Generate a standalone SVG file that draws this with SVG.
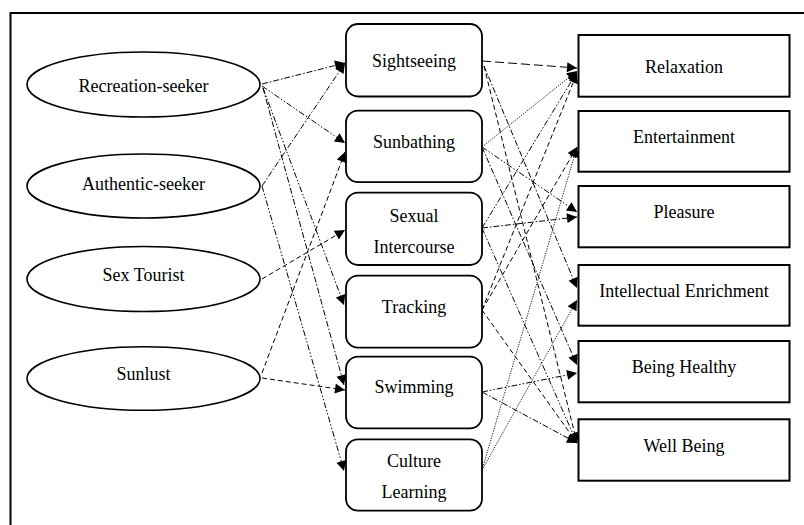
<svg xmlns="http://www.w3.org/2000/svg" width="804" height="525" viewBox="0 0 804 525">
<style>
text{font-family:"Liberation Serif","Times New Roman",serif;font-size:18px;fill:#000;text-anchor:middle}
.el{fill:#fff;stroke:#000;stroke-width:1.6}
.act{fill:#fff;stroke:#000;stroke-width:1.8}
.ben{fill:#fff;stroke:#000;stroke-width:2}
.c{fill:none;stroke:#000;stroke-width:1;marker-end:url(#ah)}
.ds{stroke-dasharray:5 3}
.ld{stroke-dasharray:9 4}
.dd{stroke-dasharray:6 2 1.5 2}
.ddd{stroke-dasharray:6 2 1.5 2 1.5 2}
.dt{stroke-dasharray:1.2 1.3;stroke-width:0.9}
</style>
<defs>
<marker id="ah" viewBox="0 0 10 10" refX="10" refY="5" markerWidth="12" markerHeight="10" markerUnits="userSpaceOnUse" orient="auto">
<path d="M0,0 L10,5 L0,10 Z" fill="#000"/>
</marker>
</defs>
<rect x="10.5" y="13" width="800" height="520" fill="none" stroke="#000" stroke-width="2"/>
<g id="connectors">
<line class="c dd" x1="262" y1="84" x2="345" y2="63"/>
<line class="c ddd" x1="262" y1="86" x2="345" y2="143"/>
<line class="c ddd" x1="263" y1="88" x2="344" y2="305"/>
<line class="c dd" x1="263" y1="88" x2="344" y2="385"/>
<line class="c dd" x1="262" y1="186" x2="345" y2="63"/>
<line class="c ddd" x1="262" y1="186" x2="344" y2="471"/>
<line class="c ds" x1="262" y1="279" x2="345" y2="230"/>
<line class="c ds" x1="262" y1="373" x2="345" y2="152"/>
<line class="c ds" x1="262" y1="378" x2="345" y2="390"/>
<line class="c ld" x1="482" y1="61" x2="577" y2="68"/>
<line class="c dd" x1="484" y1="66" x2="577" y2="288"/>
<line class="c ds" x1="484" y1="66" x2="577" y2="443"/>
<line class="c dt" x1="482" y1="147" x2="577" y2="71"/>
<line class="c ddd" x1="482" y1="147" x2="577" y2="212"/>
<line class="c dd" x1="482" y1="147" x2="577" y2="365"/>
<line class="c ddd" x1="482" y1="228" x2="577" y2="72"/>
<line class="c dd" x1="482" y1="228" x2="577" y2="217"/>
<line class="c ddd" x1="482" y1="228" x2="577" y2="443"/>
<line class="c ds" x1="482" y1="310" x2="577" y2="73"/>
<line class="c ds" x1="482" y1="310" x2="577" y2="147"/>
<line class="c ds" x1="482" y1="310" x2="577" y2="443"/>
<line class="c ddd" x1="482" y1="392" x2="577" y2="373"/>
<line class="c dd" x1="482" y1="392" x2="577" y2="443"/>
<line class="c dt" x1="482" y1="470" x2="577" y2="147"/>
<line class="c dt" x1="482" y1="470" x2="577" y2="300"/>
</g>
<g id="recreation-seeker"><ellipse class="el" cx="143.5" cy="84.5" rx="116.5" ry="32.5"/><text x="143.5" y="92">Recreation-seeker</text></g>
<g id="authentic-seeker"><ellipse class="el" cx="143.5" cy="186" rx="116.5" ry="32"/><text x="143.5" y="190">Authentic-seeker</text></g>
<g id="sex-tourist"><ellipse class="el" cx="143.5" cy="279" rx="116.5" ry="32.5"/><text x="143.5" y="281">Sex Tourist</text></g>
<g id="sunlust"><ellipse class="el" cx="143.5" cy="378.5" rx="116.5" ry="31.8"/><text x="143.5" y="380">Sunlust</text></g>
<g id="sightseeing"><rect class="act" x="346" y="24" width="136" height="72.5" rx="12"/><text x="414" y="66.5">Sightseeing</text></g>
<g id="sunbathing"><rect class="act" x="346" y="110.7" width="136" height="71.5" rx="12"/><text x="414" y="148.3">Sunbathing</text></g>
<g id="sexual-intercourse"><rect class="act" x="346" y="192.7" width="136" height="72.3" rx="12"/><text x="414" y="221.7">Sexual</text><text x="414" y="252.5">Intercourse</text></g>
<g id="tracking"><rect class="act" x="346" y="275.7" width="136" height="72" rx="12"/><text x="414" y="312.7">Tracking</text></g>
<g id="swimming"><rect class="act" x="346" y="356.7" width="136" height="71.6" rx="12"/><text x="414" y="393.3">Swimming</text></g>
<g id="culture-learning"><rect class="act" x="346" y="439.3" width="136" height="71.4" rx="12"/><text x="414" y="466.7">Culture</text><text x="414" y="498.3">Learning</text></g>
<g id="relaxation"><rect class="ben" x="578.5" y="35" width="211" height="61.7"/><text x="684" y="72.7">Relaxation</text></g>
<g id="entertainment"><rect class="ben" x="578.5" y="111" width="211" height="60.7"/><text x="684" y="143">Entertainment</text></g>
<g id="pleasure"><rect class="ben" x="578.5" y="186" width="211" height="61.3"/><text x="684" y="218">Pleasure</text></g>
<g id="intellectual-enrichment"><rect class="ben" x="578.5" y="265" width="211" height="60.7"/><text x="684" y="296.7">Intellectual Enrichment</text></g>
<g id="being-healthy"><rect class="ben" x="578.5" y="341" width="211" height="61.3"/><text x="684" y="373">Being Healthy</text></g>
<g id="well-being"><rect class="ben" x="578.5" y="419.3" width="211" height="61.4"/><text x="684" y="451.7">Well Being</text></g>
</svg>
